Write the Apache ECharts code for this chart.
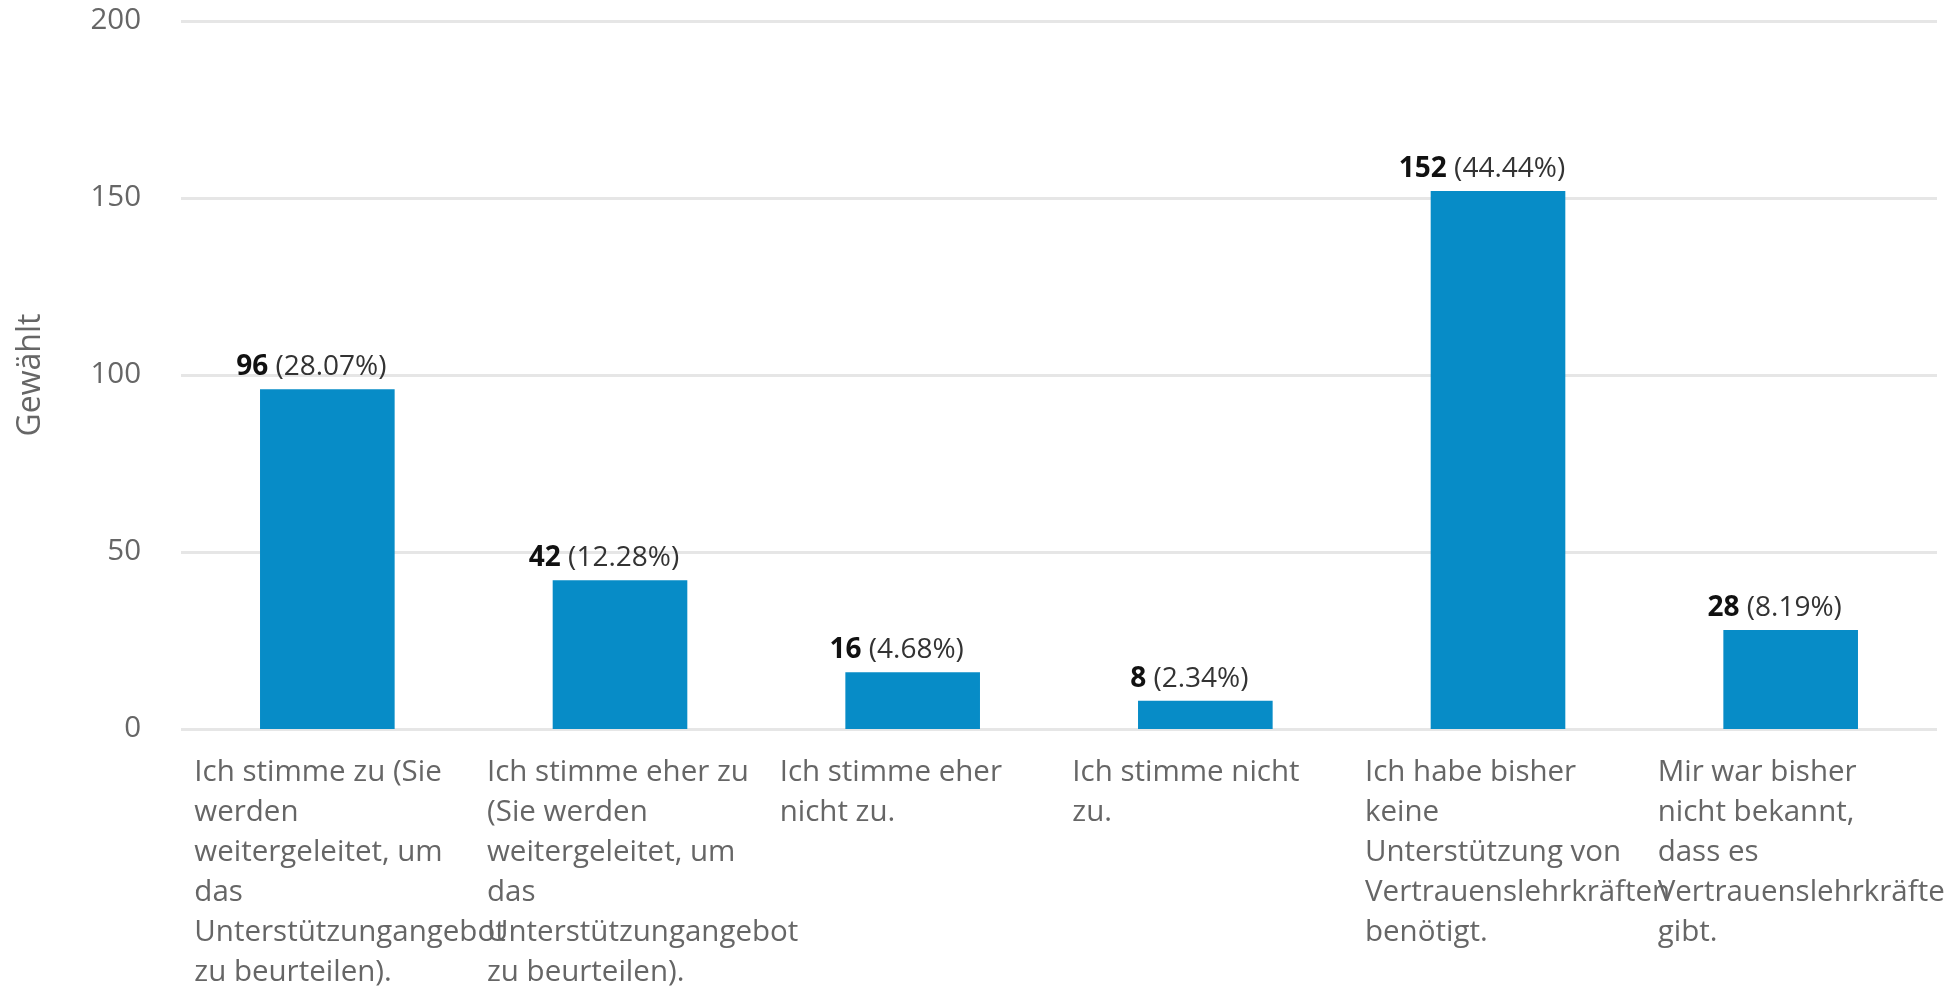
<!DOCTYPE html>
<html>
<head>
<meta charset="utf-8">
<title>Gewählt</title>
<script src="https://cdn.jsdelivr.net/npm/echarts@6/dist/echarts.min.js"></script>
<style>
	html, body { margin: 0; padding: 0; background: #fff; }
	#bar-chart-1 { width: 1960px; height: 988px; }
</style>
</head>
<body>
<div id="bar-chart-1"></div>
<script>

	var categories = [
		"Ich stimme zu (Sie\nwerden\nweitergeleitet, um\ndas\nUnterstützungangebot\nzu beurteilen).",
		"Ich stimme eher zu\n(Sie werden\nweitergeleitet, um\ndas\nUnterstützungangebot\nzu beurteilen).",
		"Ich stimme eher\nnicht zu.",
		"Ich stimme nicht\nzu.",
		"Ich habe bisher\nkeine\nUnterstützung von\nVertrauenslehrkräften\nbenötigt.",
		"Mir war bisher\nnicht bekannt,\ndass es\nVertrauenslehrkräfte\ngibt."
	];
	var counts = [96, 42, 16, 8, 152, 28];
	var percents = ["28.07", "12.28", "4.68", "2.34", "44.44", "8.19"];
	var yTicks = [0, 50, 100, 150, 200];

	var font = "'Open Sans', 'Noto Sans', sans-serif";

	var bar_chart_1 = echarts.init(document.getElementById("bar-chart-1"));
	bar_chart_1.setOption({
		animation: false,
		grid: {
			left: 181,
			right: 23,
			top: 21,
			bottom: 259
		},
		xAxis: {
			type: 'category',
			data: categories,
			axisLine: { show: false },
			axisTick: { show: false },
			axisLabel: {
				interval: 0,
				hideOverlap: false,
				margin: 24,
				align: 'center',
				verticalAlign: 'top',
				formatter: function (v) {
					return v.split("\n").map(function (s) { return "{t|" + s + "}"; }).join("\n");
				},
				rich: {
					t: {
						width: 266,
						align: 'left',
						fontFamily: font,
						fontSize: 29.5,
						lineHeight: 40,
						color: '#666'
					}
				}
			}
		},
		yAxis: {
			type: 'value',
			min: yTicks[0],
			max: yTicks[yTicks.length - 1],
			interval: yTicks[1] - yTicks[0],
			name: 'Gewählt',
			nameLocation: 'middle',
			nameGap: 134,
			nameTextStyle: {
				fontFamily: font,
				fontSize: 32,
				color: '#666'
			},
			axisLine: { show: false },
			axisTick: { show: false },
			axisLabel: {
				margin: 40,
				fontFamily: font,
				fontSize: 29.5,
				color: '#666'
			},
			splitLine: {
				lineStyle: { color: '#e6e6e6', width: 3 }
			}
		},
		series: [{
			name: 'Gewählt',
			type: 'bar',
			data: counts,
			barWidth: '46%',
			itemStyle: { color: '#078cc7' },
			label: {
				show: true,
				position: 'top',
				distance: 8,
				offset: [-16, 0],
				formatter: function (p) {
					return "{b|" + p.value + "}{n| (" + percents[p.dataIndex] + "%)}";
				},
				rich: {
					b: { fontFamily: font, fontSize: 28, fontWeight: 'bold', color: '#111' },
					n: { fontFamily: font, fontSize: 28, color: '#333' }
				}
			}
		}]
	});
	window.addEventListener('resize', bar_chart_1.resize);

</script>
</body>
</html>
